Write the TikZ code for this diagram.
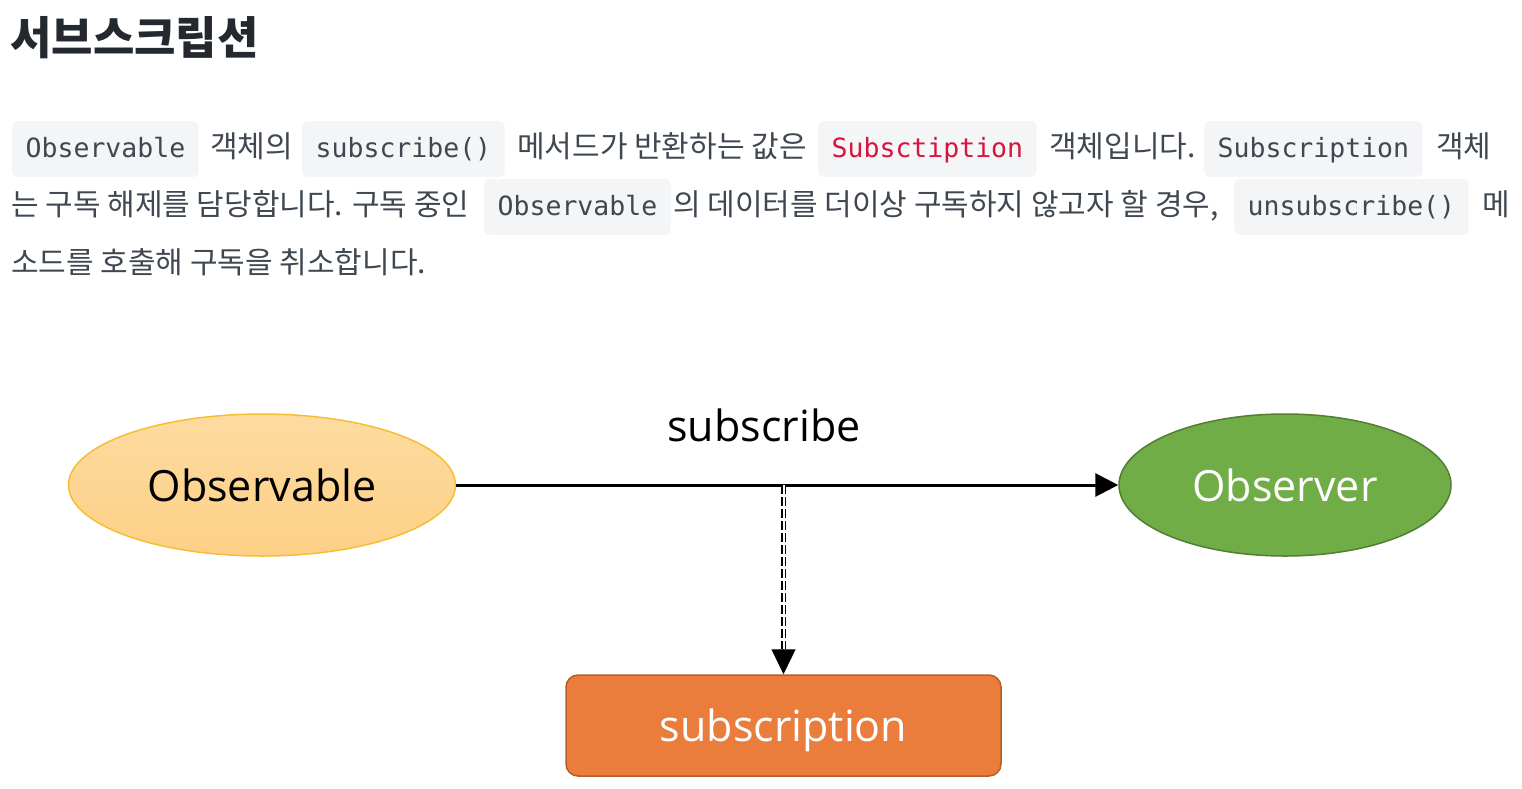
\documentclass[tikz,border=0pt]{standalone}
\usepackage{fontspec}
\usetikzlibrary{shapes.geometric}
\usetikzlibrary{arrows.meta}

\setmainfont{Open Sans}
\setmonofont{DejaVu Sans Mono}
\newfontfamily\krfont{Noto Sans CJK KR}

% page colours
\definecolor{headgray}{HTML}{24292F}
\definecolor{bodygray}{HTML}{3F4751}
\definecolor{codebg}{HTML}{F4F5F7}
\definecolor{codered}{HTML}{D7143C}

% diagram colours
\definecolor{obsTop}{HTML}{FDDBA0}
\definecolor{obsBottom}{HTML}{FDD086}
\definecolor{obsLine}{HTML}{F7BE35}
\definecolor{observerFill}{HTML}{70AD47}
\definecolor{observerLine}{HTML}{507E32}
\definecolor{subFill}{HTML}{EA7D3B}
\definecolor{subLine}{HTML}{B35F2A}

\begin{document}
\begin{tikzpicture}[x=1pt, y=-1pt,
    heading/.style={anchor=base west, inner sep=0pt, text=headgray,
      font=\krfont\bfseries\fontsize{45}{52}\selectfont},
    kortext/.style={anchor=base west, inner sep=0pt, text=bodygray,
      font=\krfont\fontsize{30}{36}\selectfont},
    codebox/.style={anchor=base west, fill=codebg, rounded corners=6pt,
      inner xsep=13.5pt, inner ysep=0pt, text height=36pt, text depth=20pt,
      text=bodygray, font=\ttfamily\fontsize{26.5}{32}\selectfont},
    bubble/.style={ellipse, inner sep=0pt, line width=1.5pt,
      font=\fontsize{43}{50}\selectfont},
    mainarrow/.style={line width=3pt, -{Triangle[length=23pt, width=23pt]}},
    dashlink/.style={line width=1.5pt, double distance=2pt, dash pattern=on 9pt off 3pt},
    tiparrow/.style={line width=1pt, -{Triangle[length=25pt, width=24pt]}}
  ]

  \useasboundingbox (0,0) rectangle (1522,788);

  % --- heading ---
  \node[heading] (title) at (10,54) {서브스크립션};

  % --- paragraph, line 1 ---
  \node[codebox] (code1) at (12,157) {Observable};
  \node[kortext] (txt1) at (210,157) {객체의};
  \node[codebox] (code2) at (302,157) {subscribe()};
  \node[kortext] (txt2) at (517,157) {메서드가 반환하는 값은};
  \node[codebox, text=codered] (code3) at (818,157) {Subsctiption};
  \node[kortext] (txt3) at (1049,157) {객체입니다.};
  \node[codebox] (code4) at (1204,157) {Subscription};
  \node[kortext] (txt4) at (1436,157) {객체};

  % --- paragraph, line 2 ---
  \node[kortext] (txt5) at (11,215) {는 구독 해제를 담당합니다. 구독 중인};
  \node[codebox] (code5) at (484,215) {Observable};
  \node[kortext] (txt6) at (673,215) {의 데이터를 더이상 구독하지 않고자 할 경우,};
  \node[codebox] (code6) at (1234,215) {unsubscribe()};
  \node[kortext] (txt7) at (1482,215) {메};

  % --- paragraph, line 3 ---
  \node[kortext] (txt8) at (11,273) {소드를 호출해 구독을 취소합니다.};

  % --- diagram ---
  \node[bubble, draw=obsLine, top color=obsTop, bottom color=obsBottom,
    minimum width=387pt, minimum height=142pt] (observable) at (262,485) {Observable};
  \node[bubble, draw=observerLine, fill=observerFill, text=white,
    minimum width=332pt, minimum height=142pt] (observer) at (1285,485) {Observer};
  \node[draw=subLine, line width=1.5pt, fill=subFill, rounded corners=12pt,
    minimum width=435pt, minimum height=101pt, text=white, text depth=0pt,
    font=\fontsize{43}{50}\selectfont] (subscription) at (783.5,725.5) {subscription};

  \draw[mainarrow] (observable.east) -- (observer.west);
  \node[inner sep=0pt, font=\fontsize{43}{50}\selectfont] (sublabel) at (764,425) {subscribe};

  % dashed double link down to the subscription box
  \coordinate (split) at (subscription.north |- observable.east);
  \coordinate (tipbase) at ([yshift=25pt]subscription.north);
  \draw[dashlink] (split) -- (tipbase);
  \draw[tiparrow] (tipbase) -- (subscription.north);

\end{tikzpicture}
\end{document}
